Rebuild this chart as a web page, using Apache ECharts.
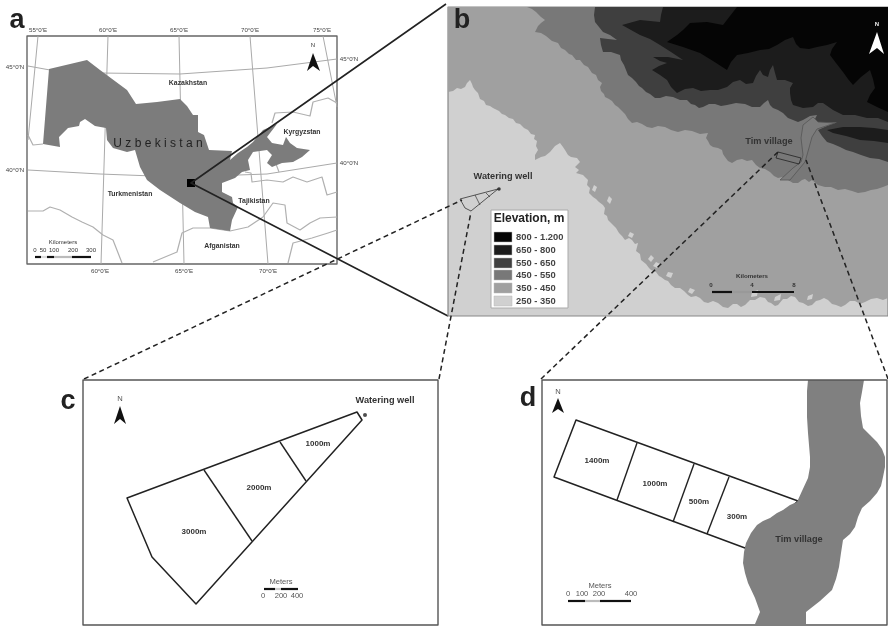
<!DOCTYPE html>
<html><head><meta charset="utf-8">
<style>html,body{margin:0;padding:0;background:#fff}#c{width:888px;height:626px;filter:blur(0.45px)}</style>
<script src="https://cdn.jsdelivr.net/npm/echarts@6/dist/echarts.min.js"></script>
</head><body><div id="c"></div>
<script>
// ---- panel frames
const frameA=[[27,36],[337,36],[337,264],[27,264]];
const frameB=[[448,7],[888,7],[888,316],[448,316]];
const frameC=[[83,380],[438,380],[438,625],[83,625]];
const frameD=[[542,380],[887,380],[887,625],[542,625]];
// ---- panel a: graticule and borders
const meridians=[
 [[38,36],[28,140]],[[108,36],[101,264]],[[179,36],[184,264]],[[250,36],[268,264]],[[323,36],[337,107]]];
const parallels=[
 [[28,66],[50,70],[100,73],[180,74],[267,68],[337,59]],
 [[28,170],[100,174],[180,177],[267,174],[337,163]]];
const borders=[
 [[28,211],[43,211],[50,207],[60,210],[72,217],[82,222],[93,227],[103,235],[113,240],[122,263]],
 [[153,262],[177,252],[182,233],[193,228],[210,228],[230,231],[248,227],[263,217],[273,203],[285,205],[287,223],[300,230],[310,223],[320,218],[337,217]],
 [[288,263],[293,243],[312,238],[328,233],[337,230]],
 [[245,172],[251,173],[252,182],[267,180],[283,182],[293,177],[307,182],[322,177],[327,195],[337,192]],
 [[272,123],[275,113],[293,112],[310,116],[313,102],[328,98],[337,103]],
 [[28,135],[33,145],[43,144]],
 [[276,164],[279,172]]];
const uzbekistan=[[49,69],[87,60],[100,70],[127,90],[136,104],[157,102],[180,99],[187,106],[193,115],[198,115],[198,132],[204,135],[209,150],[232,151],[230,160],[238,153],[247,147],[253,142],[263,130],[277,124],[267,137],[272,143],[283,145],[286,137],[290,143],[297,148],[310,150],[302,157],[293,162],[282,163],[272,167],[267,163],[272,155],[267,150],[253,152],[248,160],[250,170],[242,172],[235,178],[222,183],[222,192],[232,197],[233,203],[238,207],[232,220],[230,231],[210,228],[208,217],[195,212],[180,203],[160,190],[147,180],[140,167],[135,150],[127,152],[113,148],[107,140],[106,128],[95,126],[85,119],[80,122],[79,126],[68,128],[59,137],[60,147],[43,144]];
// ---- panel b: elevation classes, painted from low to high
const elev350=[[448,92],[453,91],[457,88],[461,89],[465,87],[467,83],[470,80],[472,84],[473,87],[475,90],[478,93],[480,99],[484,101],[486,105],[490,106],[493,108],[499,111],[502,114],[505,115],[509,118],[513,119],[516,123],[520,124],[524,128],[528,130],[531,134],[535,135],[534,139],[537,141],[536,146],[538,150],[535,155],[535,160],[541,157],[545,156],[550,152],[555,146],[560,143],[563,147],[565,150],[568,155],[571,157],[577,158],[580,162],[575,167],[579,170],[576,173],[583,175],[586,178],[588,180],[587,185],[590,188],[589,193],[593,197],[596,199],[599,202],[603,205],[605,208],[604,214],[607,216],[608,220],[612,224],[616,228],[619,233],[622,236],[625,240],[629,238],[632,240],[635,244],[638,243],[636,251],[640,254],[641,260],[646,264],[649,268],[651,270],[656,272],[659,276],[661,277],[665,280],[668,281],[671,285],[675,288],[680,288],[684,291],[688,295],[691,297],[696,296],[700,298],[704,302],[708,303],[713,301],[718,303],[723,307],[728,308],[733,304],[737,304],[741,307],[745,305],[750,300],[755,300],[760,297],[765,298],[768,302],[771,303],[775,306],[778,305],[783,299],[787,299],[791,296],[795,297],[799,302],[803,303],[808,306],[812,305],[816,301],[820,300],[824,298],[828,300],[832,304],[836,305],[841,307],[845,305],[850,301],[855,301],[860,304],[865,302],[871,299],[877,298],[883,300],[888,298],[888,7],[448,7]];
const lightSpecks=[
 [[594,185],[597,187],[595,192],[592,190]],
 [[609,196],[612,199],[610,204],[607,201]],
 [[630,232],[634,234],[632,238],[628,236]],
 [[651,255],[654,258],[651,262],[648,259]],
 [[656,262],[660,264],[657,268],[653,266]],
 [[668,272],[673,273],[671,278],[666,276]],
 [[690,288],[695,290],[692,294],[688,292]],
 [[752,292],[758,290],[757,296],[751,297]],
 [[775,297],[781,294],[780,300],[774,301]],
 [[808,296],[813,294],[812,299],[807,300]]];
const elev450=[[527,7],[532,9],[536,12],[541,17],[545,20],[541,23],[538,26],[535,32],[541,33],[546,36],[552,41],[558,43],[561,48],[565,50],[569,54],[572,55],[576,60],[580,60],[584,65],[588,67],[592,73],[596,75],[598,80],[602,83],[600,87],[601,91],[604,94],[605,97],[609,99],[612,101],[615,105],[618,107],[622,111],[625,114],[628,119],[632,123],[637,122],[642,124],[647,127],[652,128],[658,126],[665,127],[671,130],[678,132],[685,130],[692,131],[700,134],[708,133],[706,138],[708,141],[710,145],[713,147],[718,148],[722,150],[723,154],[725,157],[728,161],[732,163],[737,160],[742,159],[747,161],[752,160],[756,165],[760,168],[765,169],[770,172],[774,176],[778,178],[783,177],[788,180],[793,183],[798,183],[802,180],[805,179],[809,182],[812,180],[818,185],[825,187],[831,187],[838,190],[845,189],[852,191],[858,193],[865,192],[871,190],[877,189],[883,187],[888,185],[888,7]];
const elev550=[[595,7],[594,15],[595,22],[599,27],[603,32],[610,35],[617,40],[608,39],[600,38],[601,45],[603,52],[611,52],[620,55],[621,60],[624,65],[626,70],[628,75],[632,78],[636,82],[639,86],[642,88],[646,92],[650,94],[655,98],[660,98],[666,96],[673,97],[680,100],[687,100],[691,104],[695,105],[699,108],[703,107],[709,104],[715,104],[721,106],[727,105],[736,103],[745,104],[752,107],[760,107],[764,103],[768,100],[770,105],[773,108],[778,110],[783,113],[788,118],[793,120],[798,122],[803,120],[810,116],[817,115],[815,119],[817,122],[827,123],[837,122],[827,126],[818,130],[822,136],[827,142],[833,144],[840,147],[846,150],[853,152],[861,155],[870,158],[879,159],[888,162],[888,7]];
const elev650=[[663,7],[661,15],[660,22],[640,20],[622,25],[631,30],[640,35],[650,39],[660,45],[671,52],[683,60],[668,57],[653,57],[660,61],[667,63],[659,66],[652,70],[660,75],[667,80],[671,87],[677,93],[685,89],[693,88],[701,91],[710,90],[718,90],[727,87],[733,82],[740,80],[746,84],[753,83],[756,76],[760,70],[763,75],[768,77],[770,70],[773,65],[775,73],[777,80],[785,80],[793,83],[790,88],[790,93],[791,100],[793,105],[803,108],[813,107],[818,103],[823,103],[833,110],[843,115],[855,115],[867,118],[878,118],[888,122],[888,7]];
const elev650East=[[827,130],[843,127],[860,127],[874,128],[888,130],[888,143],[874,141],[860,140],[846,136],[833,133]];
const elev800=[[737,7],[730,16],[723,25],[707,22],[690,23],[683,30],[677,35],[667,42],[683,47],[700,53],[713,61],[727,70],[731,62],[737,55],[748,53],[760,50],[769,49],[777,45],[785,40],[793,37],[796,44],[800,48],[809,49],[817,47],[827,45],[837,42],[832,49],[830,55],[836,63],[843,72],[848,79],[853,85],[861,77],[870,70],[873,79],[875,88],[870,95],[867,102],[877,107],[888,112],[888,7]];
const timValley=[[813,117],[818,122],[835,123],[817,129],[812,137],[807,155],[805,162],[790,180],[780,180],[793,168],[801,162],[803,155],[801,138],[803,125]];
const fieldsTimSmall=[[778,152],[801,158],[799,164],[776,158]];
const fieldsWellSmall=[[460,199],[498,189],[471,211],[465,208]];
const wellSmallDiv=[[[475,195],[480,205]],[[486,193],[490,197]]];
const legendBox=[[491,210],[568,210],[568,308],[491,308]];
const legendLabels=['800 - 1.200','650 - 800','550 - 650','450 - 550','350 - 450','250 - 350'];
const legendColors=['#050505','#1c1c1c','#3f3f3f','#787878','#a0a0a0','#d0d0d0'];
const legendRowY=[237,250,263,275,288,301];
// ---- panel c
const fieldsWell=[[127,498],[357,412],[362,420],[196,604],[152,557]];
const wellDiv=[[[204,470],[252,541]],[[280,442],[306,481]]];
// ---- panel d
const fieldsTim=[[576,420],[798,501],[745,548],[554,477]];
const timDiv=[[[637,443],[617,500]],[[694,464],[673,522]],[[729,477],[707,534]]];
const village=[[808,380],[864,380],[862,392],[860,403],[861,416],[863,428],[870,435],[877,442],[882,449],[885,457],[885,467],[883,477],[881,486],[877,493],[870,501],[862,508],[858,517],[855,527],[850,534],[843,540],[841,553],[839,567],[836,579],[832,590],[820,601],[806,612],[806,624],[755,624],[760,612],[755,598],[748,583],[745,573],[743,563],[744,552],[746,543],[751,533],[757,525],[763,521],[770,518],[777,513],[783,510],[790,505],[797,502],[802,491],[808,478],[810,467],[810,457],[809,445],[808,433],[807,417],[807,403],[807,391]];
// ---- connectors
const solidLeaders=[[[446,4],[191,183],[448,316]]];
const dashedLeaders=[[[84,379],[462,200]],[[439,379],[471,212]],[[541,379],[778,152]],[[888,379],[806,160]]];
// ---- north arrows: tip, right base, notch, left base
const arrows=[
 {pts:[[313,53],[320,71],[313,66],[307,71]],fill:'#111'},
 {pts:[[877,32],[884,54],[877,48],[869,54]],fill:'#fff'},
 {pts:[[120,406],[126,424],[120,419],[114,424]],fill:'#111'},
 {pts:[[558,398],[564,413],[558,409],[552,413]],fill:'#111'}];
// ---- scale bars: [x0,x1,y,colour]
const scaleBars=[
 [35,41,257,'#111'],[41,47,257,'#ddd'],[47,54,257,'#111'],[54,72,257,'#bbb'],[72,91,257,'#111'],
 [712,732,292,'#111'],[732,752,292,'#999'],[752,794,292,'#111'],
 [264,275,589,'#111'],[275,281,589,'#ccc'],[281,298,589,'#111'],
 [568,585,601,'#111'],[585,600,601,'#bbb'],[600,631,601,'#111']];
// ---- text
const panelLetters=[['a',17,21],['b',462,21],['c',68,402],['d',528,399]];
const tickLabels=[["55°0'E",38,30],["60°0'E",108,30],["65°0'E",179,30],["70°0'E",250,30],["75°0'E",322,30],["60°0'E",100,271],["65°0'E",184,271],["70°0'E",268,271],["45°0'N",15,67],["40°0'N",15,170],["45°0'N",349,59],["40°0'N",349,163]];
const countryLabels=[['Kazakhstan',188,83],['Kyrgyzstan',302,132],['Turkmenistan',130,194],['Tajikistan',254,201],['Afganistan',222,246]];
const scaleLabelsA=[['Kilometers',63,242],['0',35,250],['50',43,250],['100',54,250],['200',73,250],['300',91,250],['N',313,45]];
const scaleLabelsB=[['Kilometers',752,276],['0',711,285],['4',752,285],['8',794,285]];
const fieldLabels=[['1000m',318,444],['2000m',259,488],['3000m',194,532],['1400m',597,461],['1000m',655,484],['500m',699,502],['300m',737,517]];
const placeLabels=[['Watering well',503,176],['Tim village',769,141],['Watering well',385,400],['Tim village',799,539]];
const scaleLabelsCD=[['Meters',281,582],['0',263,596],['200',281,596],['400',297,596],['Meters',600,586],['0',568,594],['100',582,594],['200',599,594],['400',631,594],['N',120,399],['N',558,392]];

function poly(pts,fill,stroke,lw){return{type:'custom',silent:true,clip:false,coordinateSystem:'cartesian2d',data:pts,encode:{x:0,y:1},
 renderItem(p,api){if(p.dataIndex!==0)return null;return{type:'polygon',shape:{points:pts.map(q=>api.coord(q))},style:{fill:fill||'none',stroke:stroke||'none',lineWidth:lw||0,lineJoin:'round'}};}};}
function line(pts,stroke,lw,dash){return{type:'custom',silent:true,clip:false,coordinateSystem:'cartesian2d',data:pts,encode:{x:0,y:1},
 renderItem(p,api){if(p.dataIndex!==0)return null;return{type:'polyline',shape:{points:pts.map(q=>api.coord(q))},style:{fill:'none',stroke,lineWidth:lw,lineDash:dash||null,lineJoin:'round'}};}};}
function text(rows,font,fill,align){return{type:'custom',silent:true,clip:false,coordinateSystem:'cartesian2d',data:rows.map(r=>[r[1],r[2]]),encode:{x:0,y:1},
 renderItem(p,api){const c=api.coord([api.value(0),api.value(1)]);return{type:'text',style:{text:rows[p.dataIndex][0],x:c[0],y:c[1],font,fill,textAlign:align||'center',textVerticalAlign:'middle'}};}};}
function dot(x,y,s,col){return{type:'scatter',silent:true,data:[[x,y]],symbol:'circle',symbolSize:s,itemStyle:{color:col}};}
const F='"Liberation Sans",Arial,sans-serif';
const series=[];
// panel a
series.push(poly(frameA,'#fff','#666',1.4));
meridians.concat(parallels).forEach(l=>series.push(line(l,'#aaa',1)));
borders.forEach(l=>series.push(line(l,'#b0b0b0',1.2)));
series.push(poly(uzbekistan,'#7c7c7c'));
series.push(poly([[187,179],[195,179],[195,187],[187,187]],'#000'));
series.push(text(tickLabels,'6.2px '+F,'#444'));
series.push(text(countryLabels,'bold 6.9px '+F,'#333'));
series.push(text([['U z b e k i s t a n',158,144]],'12px '+F,'#222'));
series.push(text(scaleLabelsA,'6px '+F,'#333'));
// leaders under panel b
solidLeaders.forEach(l=>series.push(line(l,'#222',1.6)));
// panel b
series.push(poly(frameB,'#d0d0d0','#888',1.2));
series.push(poly(elev350,'#a0a0a0'));
lightSpecks.forEach(s=>series.push(poly(s,'#d0d0d0')));
series.push(poly(elev450,'#787878'));
series.push(poly(elev550,'#3f3f3f'));
series.push(poly(elev650,'#1c1c1c'));
series.push(poly(elev650East,'#1c1c1c'));
series.push(poly(elev800,'#050505'));
series.push(poly(timValley,'#7c7c7c','#555',0.8));
series.push(poly(fieldsTimSmall,null,'#222',0.8));
series.push(poly(fieldsWellSmall,null,'#333',0.8));
wellSmallDiv.forEach(l=>series.push(line(l,'#333',0.7)));
series.push(dot(499,189,3.5,'#111'));
dashedLeaders.forEach(l=>series.push(line(l,'#222',1.5,[5,3.5])));
series.push(poly(legendBox,'#fff','#aaa',1));
legendColors.forEach((col,i)=>series.push(poly([[494,legendRowY[i]-5],[512,legendRowY[i]-5],[512,legendRowY[i]+5],[494,legendRowY[i]+5]],col,'#bbb',0.5)));
series.push(text([['Elevation, m',529,219]],'bold 12px '+F,'#222'));
series.push(text(legendLabels.map((t,i)=>[t,516,legendRowY[i]]),'bold 9.4px '+F,'#444','left'));
series.push(text(scaleLabelsB,'bold 6.2px '+F,'#333'));
series.push(text([['N',877,24]],'bold 6px '+F,'#eee'));
// panels c, d
series.push(poly(frameC,'#fff',null,0));
series.push(poly(frameD,'#fff',null,0));
series.push(poly(fieldsWell,null,'#222',1.5));
wellDiv.forEach(l=>series.push(line(l,'#222',1.4)));
series.push(dot(365,415,4,'#222'));
series.push(poly(fieldsTim,null,'#222',1.5));
timDiv.forEach(l=>series.push(line(l,'#222',1.4)));
series.push(poly(village,'#808080'));
series.push(poly(frameC,null,'#555',1.4));
series.push(poly(frameD,null,'#555',1.4));
// arrows & scale bars
arrows.forEach(a=>series.push(poly(a.pts,a.fill)));
scaleBars.forEach(b=>series.push(line([[b[0],b[2]],[b[1],b[2]]],b[3],2.2)));
// text
series.push(text(fieldLabels,'bold 8px '+F,'#333'));
series.push(text(placeLabels,'bold 9.2px '+F,'#333'));
series.push(text(scaleLabelsCD,'7.6px '+F,'#555'));
series.push(text(panelLetters,'bold 27px '+F,'#222'));

const chart=echarts.init(document.getElementById('c'),null,{renderer:'canvas'});
chart.setOption({animation:false,backgroundColor:'#fff',
 grid:{left:0,right:0,top:0,bottom:0},
 xAxis:{type:'value',min:0,max:888,show:false},
 yAxis:{type:'value',min:0,max:626,inverse:true,show:false},
 series});
</script></body></html>
